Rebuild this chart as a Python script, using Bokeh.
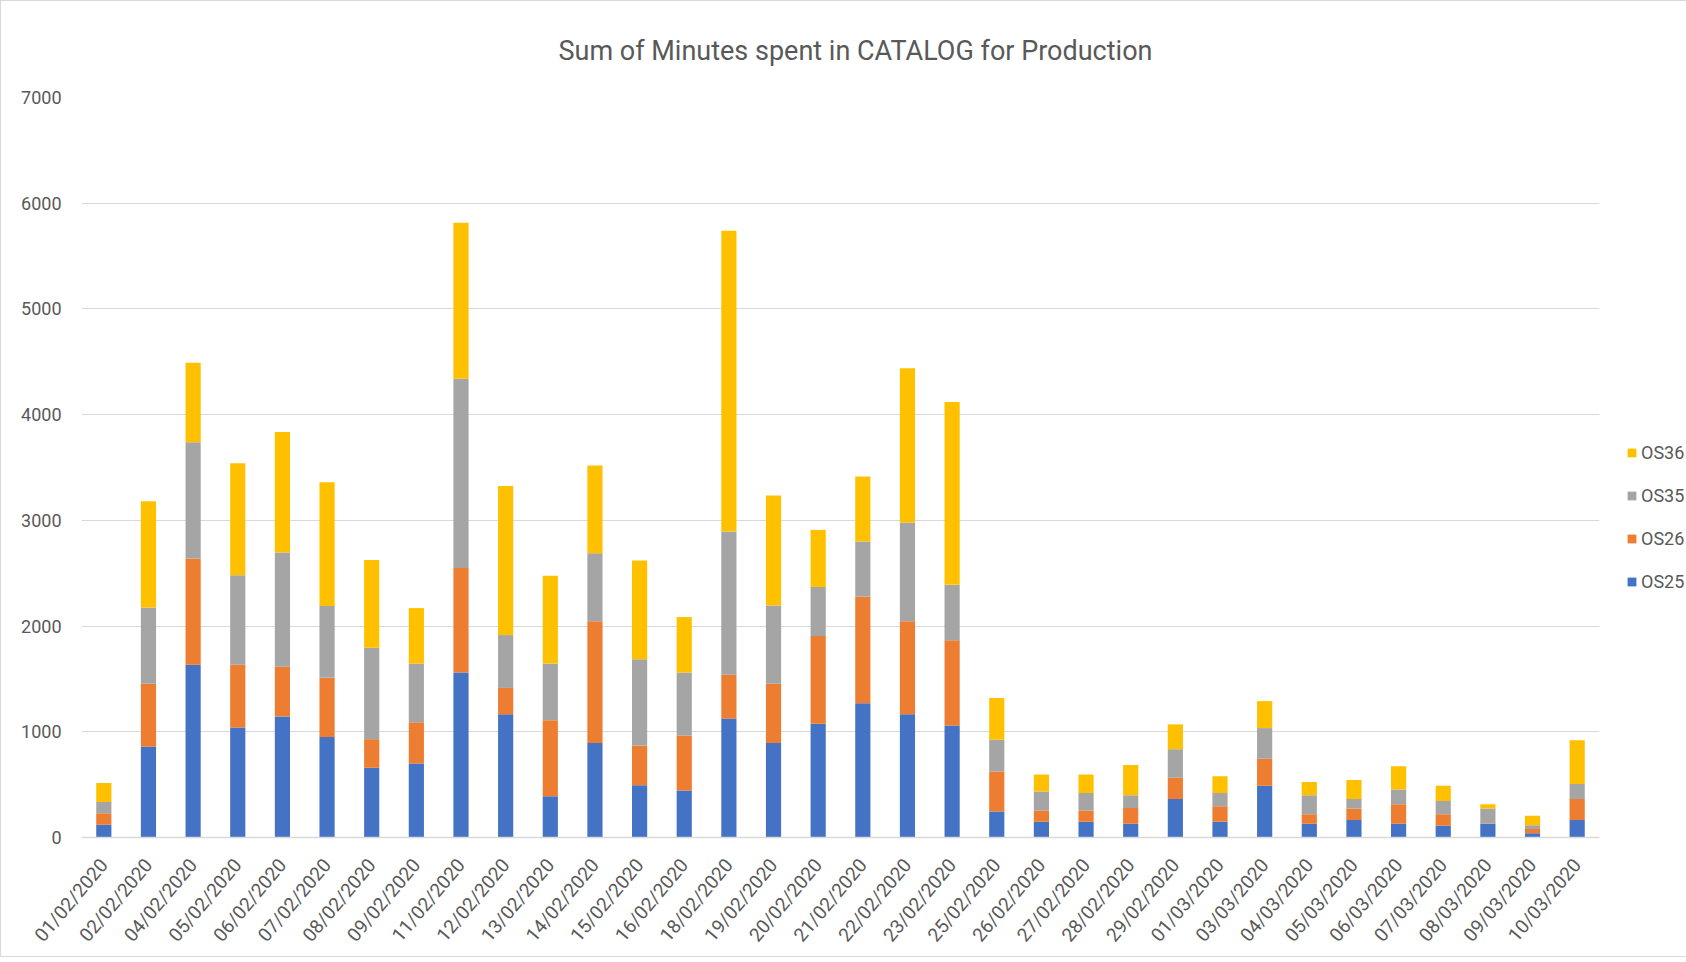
from bokeh.plotting import figure
from bokeh.layouts import row
from bokeh.models import FactorRange, Range1d, FixedTicker, Legend, LegendItem, ColumnDataSource
from bokeh.embed import file_html
from bokeh.resources import INLINE

dates = ["01/02/2020", "02/02/2020", "04/02/2020", "05/02/2020", "06/02/2020", "07/02/2020",
         "08/02/2020", "09/02/2020", "11/02/2020", "12/02/2020", "13/02/2020", "14/02/2020",
         "15/02/2020", "16/02/2020", "18/02/2020", "19/02/2020", "20/02/2020", "21/02/2020",
         "22/02/2020", "23/02/2020", "25/02/2020", "26/02/2020", "27/02/2020", "28/02/2020",
         "29/02/2020", "01/03/2020", "03/03/2020", "04/03/2020", "05/03/2020", "06/03/2020",
         "07/03/2020", "08/03/2020", "09/03/2020", "10/03/2020"]

os25 = [120, 860, 1635, 1040, 1145, 950, 660, 700, 1560, 1165, 390, 895, 495, 445, 1125, 895,
        1075, 1270, 1165, 1060, 245, 150, 150, 130, 365, 150, 490, 130, 165, 130, 110, 130, 40, 165]
os26 = [110, 595, 1005, 595, 470, 560, 270, 390, 990, 250, 720, 1150, 375, 520, 415, 560,
        830, 1010, 880, 805, 380, 105, 105, 150, 200, 145, 255, 90, 110, 185, 110, 5, 40, 200]
os35 = [105, 720, 1100, 845, 1080, 680, 865, 555, 1790, 500, 535, 645, 815, 595, 1355, 740,
        465, 520, 935, 525, 300, 180, 165, 120, 270, 125, 290, 180, 90, 140, 125, 140, 35, 140]
os36 = [180, 1005, 750, 1060, 1140, 1170, 830, 525, 1475, 1410, 830, 830, 935, 525, 2845, 1040,
        540, 615, 1460, 1730, 395, 160, 175, 285, 235, 160, 255, 125, 180, 220, 145, 40, 90, 415]

series = ["OS25", "OS26", "OS35", "OS36"]
colors = ["#4472C4", "#ED7D31", "#A5A5A5", "#FFC000"]
y_ticks = [0, 1000, 2000, 3000, 4000, 5000, 6000, 7000]
title_text = "Sum of Minutes spent in CATALOG for Production"

FONT = "Roboto"
TXT = "#595959"

source = ColumnDataSource(dict(date=dates, OS25=os25, OS26=os26, OS35=os35, OS36=os36))

p = figure(width=1608, height=955, x_range=FactorRange(*dates), y_range=Range1d(0, 7000),
           output_backend="svg", toolbar_location=None,
           min_border_left=80, min_border_right=10, min_border_top=93, min_border_bottom=109)

p.vbar_stack(series, x="date", width=0.34, color=colors, line_color=None, source=source)

p.title.text = title_text
p.title.align = "left"
p.title.offset = 477
p.title.standoff = 62
p.title.text_font = FONT
p.title.text_font_size = "27px"
p.title.text_font_style = "normal"
p.title.text_color = TXT

p.yaxis.ticker = FixedTicker(ticks=y_ticks)
p.yaxis.axis_line_color = None
p.yaxis.major_tick_line_color = None
p.yaxis.minor_tick_line_color = None
p.yaxis.major_label_text_font = FONT
p.yaxis.major_label_text_font_size = "18px"
p.yaxis.major_label_text_color = TXT
p.yaxis.major_label_standoff = 14

p.xaxis.axis_line_color = "#d9d9d9"
p.xaxis.axis_line_width = 1.5
p.xaxis.major_tick_line_color = None
p.xaxis.minor_tick_line_color = None
p.xaxis.major_label_orientation = 0.87
p.xaxis.major_label_text_font = FONT
p.xaxis.major_label_text_font_size = "19px"
p.xaxis.major_label_text_color = TXT
p.xaxis.major_label_standoff = 18

p.xgrid.grid_line_color = None
p.ygrid.grid_line_color = "#d9d9d9"
p.ygrid.grid_line_width = 1
p.outline_line_color = None

# legend panel: a narrow figure beside the bars; its (hidden) stacks only supply legend swatches
lf = figure(width=77, height=955, x_range=FactorRange(*dates), y_range=Range1d(-2, -1),
            output_backend="svg", toolbar_location=None,
            x_axis_location=None, y_axis_location=None,
            min_border_left=0, min_border_right=0, min_border_top=0, min_border_bottom=0)
lf.xgrid.grid_line_color = None
lf.ygrid.grid_line_color = None
lf.outline_line_color = None
legend_renderers = lf.vbar_stack(series, x="date", width=0.34, color=colors,
                                 line_color=None, source=source)
for r in legend_renderers:
    r.visible = False

items = [LegendItem(label=s, renderers=[r]) for s, r in zip(series, legend_renderers)][::-1]
legend = Legend(items=items, location=(17, 245), orientation="vertical",
                glyph_width=11, glyph_height=11, label_height=20, spacing=22,
                label_standoff=4, padding=0, margin=0,
                label_text_font=FONT, label_text_font_size="18px", label_text_color=TXT,
                border_line_color=None, background_fill_alpha=0,
                inactive_fill_alpha=0)
lf.add_layout(legend, "center")

layout = row(p, lf, styles={"border": "1px solid #d9d9d9"})

open("out.html", "w").write(file_html(layout, INLINE))
